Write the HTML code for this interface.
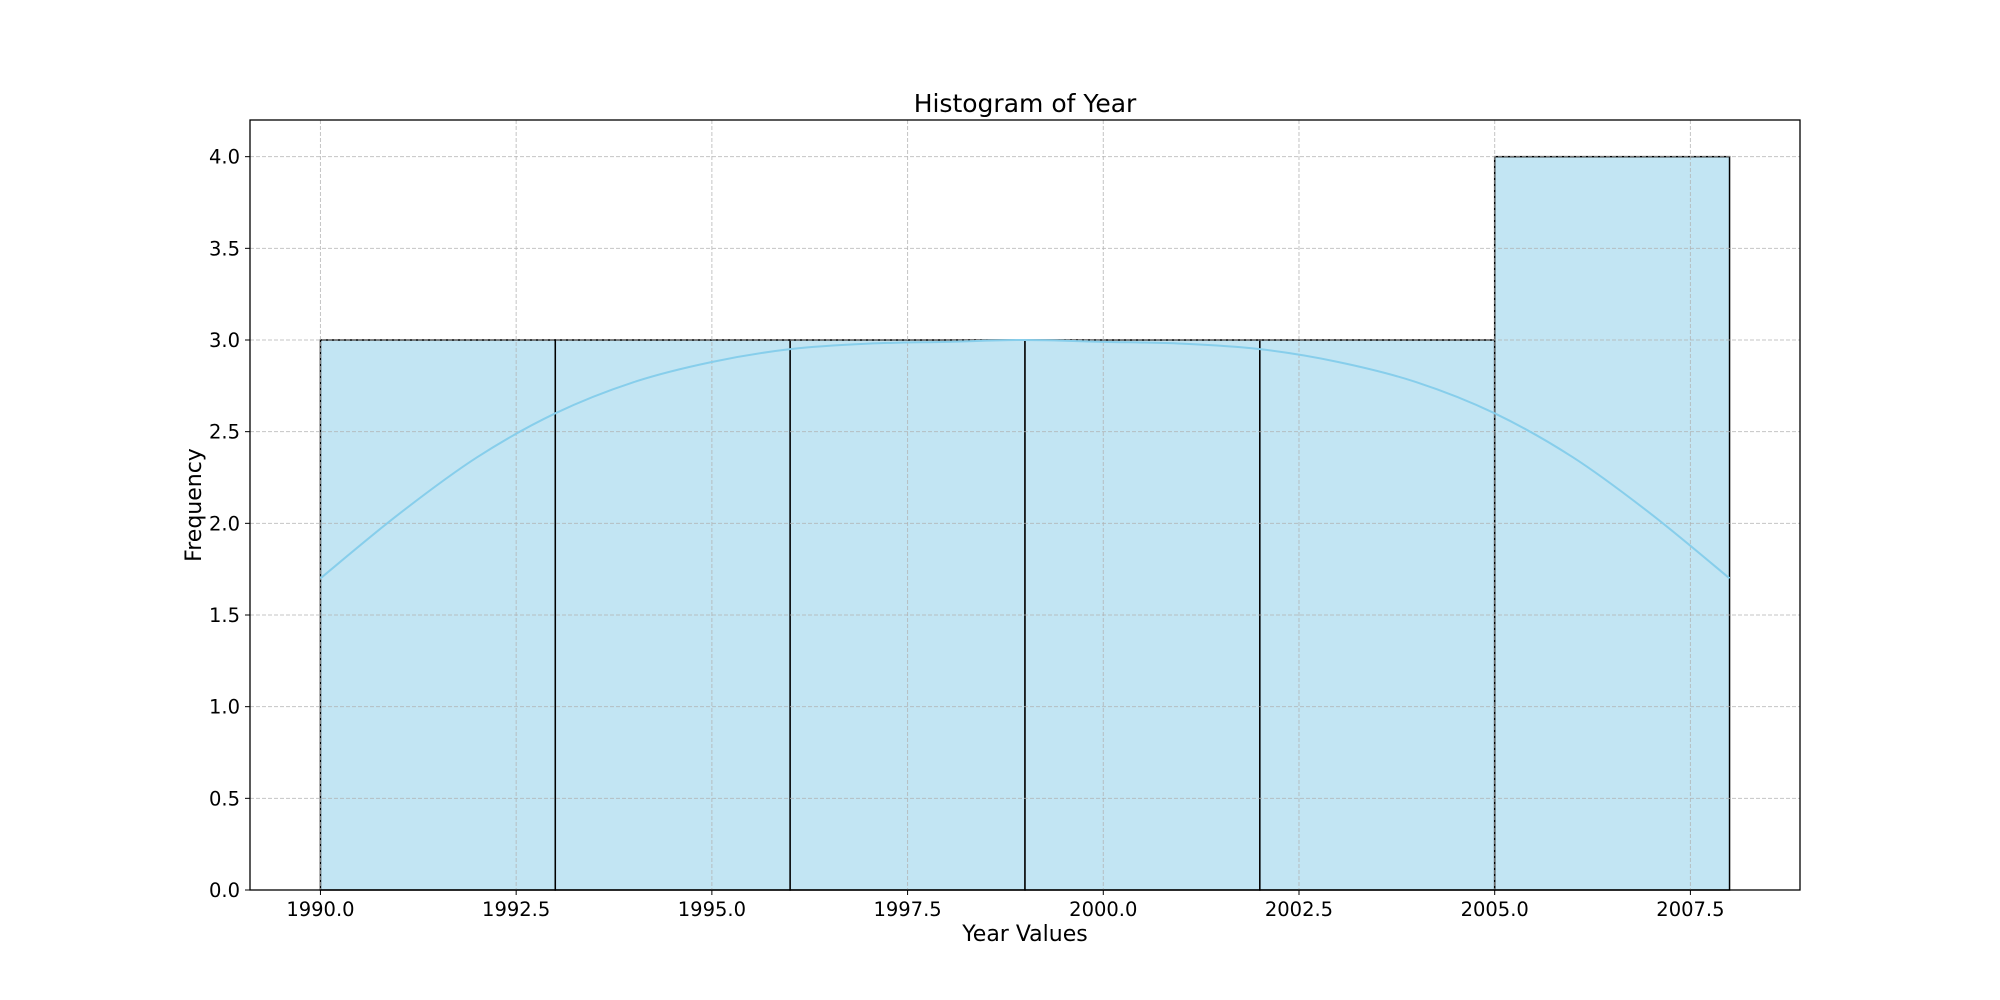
<!DOCTYPE html>
<html><head><meta charset="utf-8"><style>
body{margin:0;background:#fff;}
svg{display:block;font-family:"DejaVu Sans","Liberation Sans",sans-serif;}
</style></head><body>
<svg id="chart" width="2000" height="1000" viewBox="0 0 2000 1000" xmlns="http://www.w3.org/2000/svg">
<rect width="2000" height="1000" fill="#fff"/>
<g id="bars"></g><g id="grid"></g><g id="curve"></g><g id="axes"></g>
<text x="1025" y="112" font-size="25" text-anchor="middle" fill="#000">Histogram of Year</text>
<text x="1025" y="941" font-size="22" text-anchor="middle" fill="#000">Year Values</text>
<text transform="translate(201,505) rotate(-90)" font-size="22" text-anchor="middle" fill="#000">Frequency</text>
</svg>
<script>
const binEdges=[1990,1993,1996,1999,2002,2005,2008];
const binCounts=[3,3,3,3,3,4];
const kdeYears=[1990,1991,1992,1993,1994,1995,1996,1997,1998,1999,2000,2001,2002,2003,2004,2005,2006,2007,2008];
const kdeValues=[1.70,2.05,2.36,2.60,2.77,2.88,2.95,2.98,2.99,3.00,2.99,2.98,2.95,2.88,2.77,2.60,2.36,2.05,1.70];
const xTicks=[1990,1992.5,1995,1997.5,2000,2002.5,2005,2007.5];
const yTicks=[0,0.5,1,1.5,2,2.5,3,3.5,4];

const L=250,R=1800,T=120,B=890,X0=1989.1,X1=2008.9,Y0=0,Y1=4.2;
const xs=v=>L+(v-X0)/(X1-X0)*(R-L);
const ys=v=>B-(v-Y0)/(Y1-Y0)*(B-T);
const NS="http://www.w3.org/2000/svg";
function mk(tag,attrs,parent){const e=document.createElementNS(NS,tag);for(const k in attrs)e.setAttribute(k,attrs[k]);parent.appendChild(e);return e;}
const gb=document.getElementById('bars'),gg=document.getElementById('grid'),gc=document.getElementById('curve'),ga=document.getElementById('axes');
binCounts.forEach((c,i)=>{
  const x=xs(binEdges[i]),w=xs(binEdges[i+1])-x,y=ys(c);
  const r=mk('rect',{x:x,y:y,width:w,height:ys(0)-y,fill:'#c2e5f3',stroke:'#000','stroke-width':1.5},gb);
  
  
});
xTicks.forEach(v=>{
  const x=xs(v);
  const g=mk('line',{x1:x,x2:x,y1:T,y2:B,stroke:'#b0b0b0','stroke-opacity':0.75,'stroke-dasharray':'4,2','stroke-width':1},gg);
  
  
  mk('line',{x1:x,x2:x,y1:B,y2:B+5,stroke:'#000','stroke-width':1},ga);
  const t=mk('text',{x:x,y:916,'font-size':19.5,'text-anchor':'middle',fill:'#000'},ga);
  t.textContent=v.toFixed(1);
  
  
});
yTicks.forEach(v=>{
  const y=ys(v);
  const g=mk('line',{x1:L,x2:R,y1:y,y2:y,stroke:'#b0b0b0','stroke-opacity':0.75,'stroke-dasharray':'4,2','stroke-width':1},gg);
  
  
  mk('line',{x1:L-5,x2:L,y1:y,y2:y,stroke:'#000','stroke-width':1},ga);
  const t=mk('text',{x:240,y:y+7,'font-size':19.5,'text-anchor':'end',fill:'#000'},ga);
  t.textContent=v.toFixed(1);
  
  
});
const P=kdeYears.map((yr,i)=>[xs(yr),ys(kdeValues[i])]);
let d='M'+P[0][0]+','+P[0][1];
for(let i=0;i<P.length-1;i++){
  const p0=P[Math.max(0,i-1)],p1=P[i],p2=P[i+1],p3=P[Math.min(P.length-1,i+2)];
  d+=' C'+(p1[0]+(p2[0]-p0[0])/6)+','+(p1[1]+(p2[1]-p0[1])/6)+' '+(p2[0]-(p3[0]-p1[0])/6)+','+(p2[1]-(p3[1]-p1[1])/6)+' '+p2[0]+','+p2[1];
}
const kde=mk('path',{d:d,fill:'none',stroke:'#87ceeb','stroke-width':2},gc);


const frame=mk('rect',{x:L,y:T,width:R-L,height:B-T,fill:'none',stroke:'#000','stroke-width':1.3},ga);


</script>
</body></html>
